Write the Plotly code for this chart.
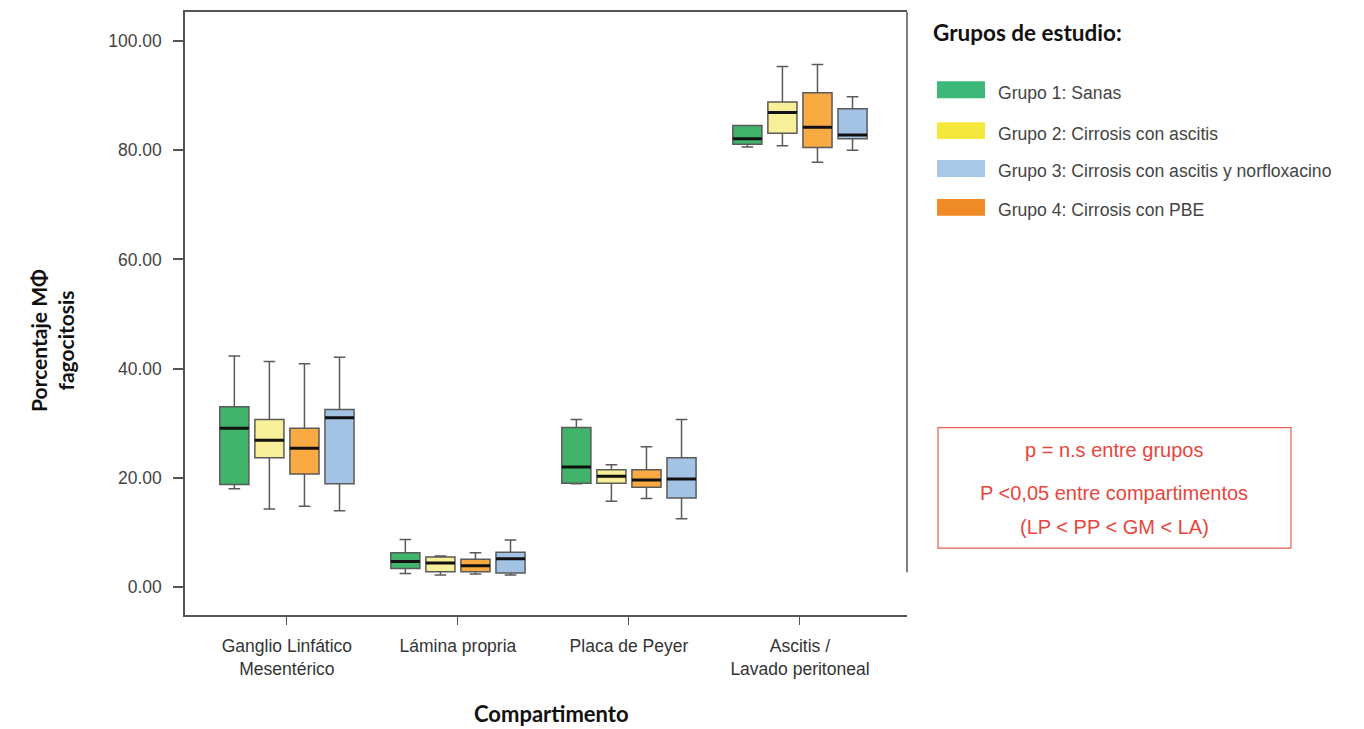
import plotly.graph_objects as go

# ---------------- data ----------------
categories = ["Ganglio Linfático<br>Mesentérico", "Lámina propria", "Placa de Peyer", "Ascitis /<br>Lavado peritoneal"]

groups = ["Grupo 1: Sanas", "Grupo 2: Cirrosis con ascitis", "Grupo 4: Cirrosis con PBE", "Grupo 3: Cirrosis con ascitis y norfloxacino"]

g1_low = [18.0, 2.5, 18.9, 80.6]
g1_q1 = [18.8, 3.4, 19.0, 81.1]
g1_med = [29.1, 4.7, 22.0, 82.1]
g1_q3 = [33.0, 6.3, 29.2, 84.5]
g1_up = [42.3, 8.7, 30.7, 84.5]

g2_low = [14.3, 2.2, 15.7, 80.8]
g2_q1 = [23.7, 2.8, 19.0, 83.1]
g2_med = [26.9, 4.4, 20.3, 86.9]
g2_q3 = [30.7, 5.5, 21.5, 88.8]
g2_up = [41.3, 5.7, 22.4, 95.3]

g4_low = [14.8, 2.4, 16.2, 77.8]
g4_q1 = [20.7, 2.8, 18.3, 80.5]
g4_med = [25.4, 3.9, 19.6, 84.2]
g4_q3 = [29.1, 5.1, 21.5, 90.5]
g4_up = [40.9, 6.3, 25.7, 95.7]

g3_low = [14.0, 2.2, 12.5, 80.0]
g3_q1 = [18.9, 2.6, 16.3, 82.1]
g3_med = [31.0, 5.2, 19.8, 82.8]
g3_q3 = [32.5, 6.4, 23.7, 87.6]
g3_up = [42.1, 8.6, 30.7, 89.8]

y_ticks = [0, 20, 40, 60, 80, 100]

legend_labels = ["Grupo 1: Sanas", "Grupo 2: Cirrosis con ascitis",
                 "Grupo 3: Cirrosis con ascitis y norfloxacino", "Grupo 4: Cirrosis con PBE"]
legend_colors = ["#3cb878", "#f5e83c", "#a8c8e8", "#f08a24"]

# ---------------- styles ----------------
box_fill = ["#40b46a", "#f8f099", "#f9aa42", "#a3c3e5"]

SANS = "Liberation Sans, Arial, sans-serif"
BOLD = "Lato, Open Sans, sans-serif"

series = [
    (g1_low, g1_q1, g1_med, g1_q3, g1_up),
    (g2_low, g2_q1, g2_med, g2_q3, g2_up),
    (g4_low, g4_q1, g4_med, g4_q3, g4_up),
    (g3_low, g3_q1, g3_med, g3_q3, g3_up),
]

fig = go.Figure()
for i, (lo, q1, md, q3, up) in enumerate(series):
    fig.add_trace(go.Box(
        x=categories, q1=q1, median=md, q3=q3, lowerfence=lo, upperfence=up,
        name=groups[i], offsetgroup=f"g{i}", fillcolor=box_fill[i],
        line=dict(color="#5a5a5a", width=1.5), whiskerwidth=0.4,
        showlegend=False, boxpoints=False,
    ))
for i, (lo, q1, md, q3, up) in enumerate(series):
    fig.add_trace(go.Box(
        x=categories, q1=md, median=md, q3=md, lowerfence=md, upperfence=md,
        name=groups[i] + " mediana", offsetgroup=f"g{i}", fillcolor="rgba(0,0,0,0)",
        line=dict(color="#111111", width=3), whiskerwidth=0,
        showlegend=False, boxpoints=False, hoverinfo="skip",
    ))

W, H = 1364, 729
L, R, T, B = 185, 907, 10, 615


def px(x):
    return (x - L) / (R - L)


def py(y):
    return (B - y) / (B - T)


shapes = []
annotations = []

# right frame line (stops short of the bottom, as in the original)
shapes.append(dict(type="line", xref="paper", yref="paper", x0=1, x1=1, y0=py(572), y1=1,
                   line=dict(color="#555555", width=1.5)))

# legend title
annotations.append(dict(x=px(931), y=py(31), xref="paper", yref="paper", xanchor="left", yanchor="middle",
                        text="<b>Grupos de estudio:</b>", showarrow=False,
                        font=dict(family=BOLD, size=22.5, color="#111111")))
leg_y = [88, 129, 167, 206]
for lab, col, yy in zip(legend_labels, legend_colors, leg_y):
    shapes.append(dict(type="rect", xref="paper", yref="paper", x0=px(937), x1=px(985),
                       y0=py(yy + 8.5), y1=py(yy - 8.5), fillcolor=col, line=dict(width=0)))
    annotations.append(dict(x=px(996), y=py(yy + 3), xref="paper", yref="paper", xanchor="left", yanchor="middle",
                            text=lab, showarrow=False,
                            font=dict(family=SANS, size=17.6, color="#444444")))

# red box
shapes.append(dict(type="rect", xref="paper", yref="paper", x0=px(938), x1=px(1291),
                   y0=py(548), y1=py(427), line=dict(color="#e8604f", width=1.2), fillcolor="rgba(0,0,0,0)"))
for txt, yy in [("p = n.s entre grupos", 449), ("P <0,05 entre compartimentos", 493), ("(LP < PP < GM < LA)", 527)]:
    annotations.append(dict(x=px(1114), y=py(yy), xref="paper", yref="paper", xanchor="center", yanchor="middle",
                            text=txt, showarrow=False,
                            font=dict(family=SANS, size=20, color="#e8453c")))

# axis titles
annotations.append(dict(x=px(52), y=py(340), xref="paper", yref="paper", xanchor="center", yanchor="middle",
                        text="<b>Porcentaje MΦ<br>fagocitosis</b>", showarrow=False, textangle=-90,
                        font=dict(family=BOLD, size=21, color="#111111")))
annotations.append(dict(x=px(551), y=py(714), xref="paper", yref="paper", xanchor="center", yanchor="middle",
                        text="<b>Compartimento</b>", showarrow=False,
                        font=dict(family=BOLD, size=22, color="#111111")))

fig.update_layout(
    width=W, height=H,
    margin=dict(l=L, r=W - R, t=T, b=H - B),
    paper_bgcolor="white", plot_bgcolor="white",
    boxmode="group", boxgap=0.18, boxgroupgap=0.17,
    shapes=shapes, annotations=annotations,
    showlegend=False,
    xaxis=dict(type="category", range=[-0.596, 3.626], showgrid=False, zeroline=False,
               showline=True, linecolor="#555555", linewidth=1.5, mirror=True,
               ticks="outside", ticklen=8, tickcolor="#555555", tickwidth=1.2,
               ticklabelstandoff=6,
               tickfont=dict(family=SANS, size=17.5, color="#333333")),
    yaxis=dict(range=[-5.11, 105.3], tickvals=y_ticks, tickformat=".2f", showgrid=False, zeroline=False,
               showline=True, linecolor="#555555", linewidth=1.5, mirror=False,
               ticks="outside", ticklen=10, tickcolor="#555555", tickwidth=1.5,
               ticklabelstandoff=8,
               tickfont=dict(family=SANS, size=17.5, color="#444444")),
)

fig.write_html("out.html")
